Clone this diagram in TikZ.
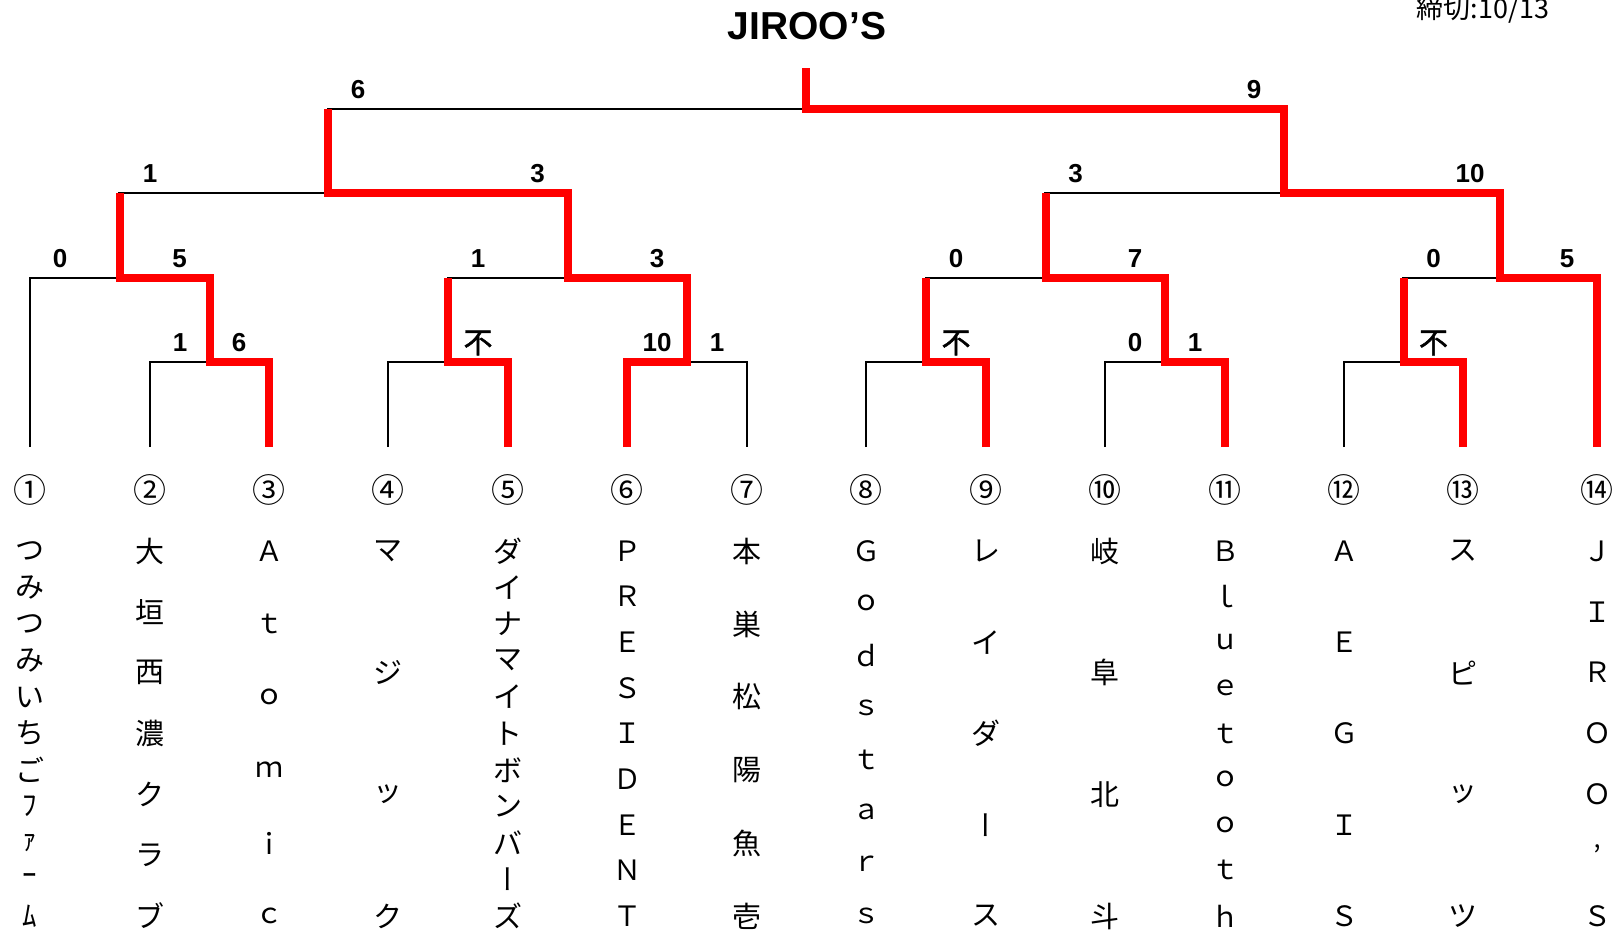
\documentclass[tikz,border=0pt]{standalone}
\usepackage{fontspec}
\usepackage{graphicx}
\setmainfont{Noto Sans CJK JP}
\newfontfamily\jpv{Noto Sans CJK JP}[RawFeature=+vert]
\newfontfamily\jpb{Noto Sans CJK JP}[FakeBold=1.5]
\newfontfamily\marca{Liberation Sans}
\newcommand{\vl}{{\jpv ー}}

\begin{document}
\begin{tikzpicture}[x=1pt,y=-1pt,
        linea/.style={black,line width=2.7pt},
        gana/.style={rojo,line width=8pt,line join=miter},
        marcador/.style={font=\marca\bfseries\fontsize{26}{26}\selectfont,inner sep=0pt},
        fusen/.style={font=\jpb\fontsize{29}{29}\selectfont,inner sep=0pt},
        circulo/.style={font=\fontsize{33}{33}\selectfont,inner sep=0pt},
        letra/.style={inner sep=0pt}]
        %colores
        \definecolor{rojo}{RGB}{255,0,0}
        \useasboundingbox (0,0) rectangle (1618,933);

        % Titulo y plazo
        \node[font=\marca\bfseries\fontsize{39}{39}\selectfont,inner sep=0pt] (titulo) at (807,26) {JIROO’S};
        \node[font=\fontsize{27}{27}\selectfont,inner sep=0pt,anchor=base] (plazo) at (1483,19) {締切:10/13};

        % equipos, puntos de partida
        \foreach \i/\x in {1/30,2/150,3/269,4/388,5/508,6/627,7/747,8/866,9/986,10/1105,11/1225,12/1344,13/1463,14/1597}
        \coordinate (e\i) at (\x,447);
        % cruces
        \coordinate (p23) at (209.5,362);
        \coordinate (p45) at (448,362);
        \coordinate (p67) at (687,362);
        \coordinate (p89) at (926,362);
        \coordinate (p1011) at (1165,362);
        \coordinate (p1213) at (1403.5,362);
        \coordinate (q1) at (119.75,278);
        \coordinate (q2) at (567.5,278);
        \coordinate (q3) at (1045.5,278);
        \coordinate (q4) at (1500.25,278);
        \coordinate (r1) at (328,193);
        \coordinate (r2) at (1284,193);
        \coordinate (raiz) at (806,109);
        \coordinate (cima) at (806,68);

        % Cuadro en negro
        \foreach \a/\b/\m in {2/3/23, 4/5/45, 6/7/67, 8/9/89, 10/11/1011, 12/13/1213}
        \draw[linea] (e\a) |- (p\m) -| (e\b);
        \draw[linea] (e1) |- (q1) -| (p23);
        \draw[linea] (p45) |- (q2) -| (p67);
        \draw[linea] (p89) |- (q3) -| (p1011);
        \draw[linea] (p1213) |- (q4) -| (e14);
        \draw[linea] (q1) |- (r1) -| (q2);
        \draw[linea] (q3) |- (r2) -| (q4);
        \draw[linea] (r1) |- (raiz) -| (r2);
        \draw[linea] (raiz) -- (cima);

        % ganadores en rojo
        \draw[gana] (e3) |- (p23) |- (q1) -- (q1 |- r1);
        \draw[gana] (e5) |- (p45) -- (p45 |- q2);
        \draw[gana] (e6) |- (p67) |- (q2) |- (r1) -- (r1 |- raiz);
        \draw[gana] (e9) |- (p89) -- (p89 |- q3);
        \draw[gana] (e11) |- (p1011) |- (q3) -- (q3 |- r2);
        \draw[gana] (e13) |- (p1213) -- (p1213 |- q4);
        \draw[gana] (e14) |- (q4) |- (r2) |- (raiz) -- (cima);

        % marcadores
        \foreach \x/\y/\t [count=\k] in {180/343/1, 239/343/6, 657/343/10, 717/343/1, 1135/343/0, 1195/343/1,
            60/259/0, 179.5/259/5, 478/259/1, 657/259/3, 956/259/0, 1135/259/7, 1433.5/259/0, 1567/259/5,
            150/174/1, 537.5/174/3, 1075.5/174/3, 1470/174/10, 358/90/6, 1254/90/9}
        \node[marcador] (s\k) at (\x,\y) {\t};
        \foreach \x [count=\k] in {478,956,1433.5}
        \node[fusen] (f\k) at (\x,343) {不};

        % numeros de equipo
        \foreach \i/\c in {1/①,2/②,3/③,4/④,5/⑤,6/⑥,7/⑦,8/⑧,9/⑨,10/⑩,11/⑪,12/⑫,13/⑬,14/⑭}
        \node[circulo] (c\i) at (e\i |- 0,490) {\c};

        % nombres en vertical
        \foreach \i/\cnt/\fs/\lista in {1/11/29/{つ,み,つ,み,い,ち,ご,ﾌ,ｧ,ｰ,ﾑ}, 2/7/29/{大,垣,西,濃,ク,ラ,ブ},
            3/6/28/{Ａ,ｔ,ｏ,ｍ,ｉ,ｃ}, 4/4/29/{マ,ジ,ッ,ク}, 5/11/29/{ダ,イ,ナ,マ,イ,ト,ボ,ン,バ,\vl,ズ},
            6/9/28/{Ｐ,Ｒ,Ｅ,Ｓ,Ｉ,Ｄ,Ｅ,Ｎ,Ｔ}, 7/6/29/{本,巣,松,陽,魚,壱}, 8/8/28/{Ｇ,ｏ,ｄ,ｓ,ｔ,ａ,ｒ,ｓ},
            9/5/29/{レ,イ,ダ,\vl,ス}, 10/4/29/{岐,阜,北,斗}, 11/9/28/{Ｂ,ｌ,ｕ,ｅ,ｔ,ｏ,ｏ,ｔ,ｈ},
            12/5/28/{Ａ,Ｅ,Ｇ,Ｉ,Ｓ}, 13/4/29/{ス,ピ,ッ,ツ}, 14/7/28/{Ｊ,Ｉ,Ｒ,Ｏ,Ｏ,’,Ｓ}}
        {
            \foreach \c [count=\k] in \lista {
                \pgfmathsetmacro\yy{551+(\k-1)*365/(\cnt-1)}
                \node[letra,font=\fontsize{\fs}{\fs}\selectfont] (n\i-\k) at (e\i |- 0,\yy) {\c};
            }
        }
    \end{tikzpicture}
\end{document}
